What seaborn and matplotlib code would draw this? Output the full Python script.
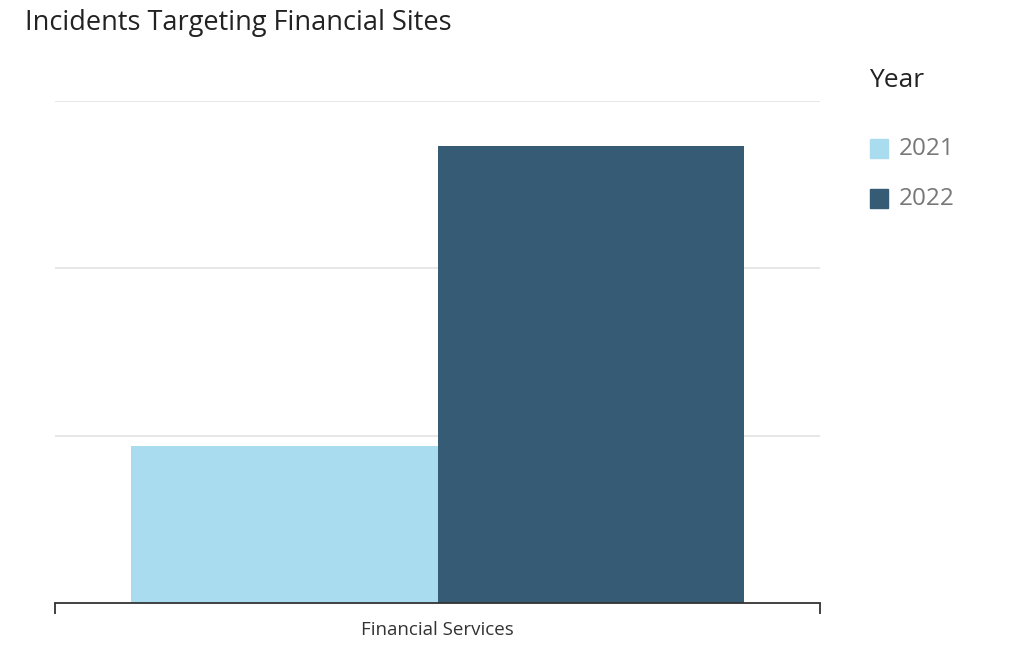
import pandas as pd
import matplotlib.pyplot as plt
import seaborn as sns

# Chart data
categories = ["Financial Services", "Financial Services"]
years = ["2021", "2022"]
incidents = [94, 273]
grid_ticks = [100, 200, 300]

palette = {"2021": "#AADCF0", "2022": "#365B74"}

df = pd.DataFrame({"sector": categories, "year": years, "incidents": incidents})

sns.set_style("white")
plt.rcParams['font.family'] = ['Open Sans', 'DejaVu Sans']

fig = plt.figure(figsize=(10.24, 6.5), dpi=100)
ax = fig.add_axes([0.0537, 0.0723, 0.7471, 0.7723])

sns.barplot(data=df, x="sector", y="incidents", hue="year", palette=palette,
            width=0.8, saturation=1, legend=False, linewidth=0, ax=ax, zorder=3)

ax.set_ylim(0, 300)
ax.set_xlim(-0.5, 0.5)
ax.set_yticks(grid_ticks)
ax.set_yticklabels([])
ax.tick_params(axis="y", length=0)
ax.grid(axis="y", color="#E3E3E3", linewidth=1.2, zorder=0)

# bottom axis with end ticks only
for side in ["top", "right", "left"]:
    ax.spines[side].set_visible(False)
ax.spines["bottom"].set_color("#333333")
ax.spines["bottom"].set_linewidth(1.3)
ax.spines["bottom"].set_zorder(4)
ax.set_xticks([-0.5, 0.5], minor=True)
ax.tick_params(axis="x", which="minor", bottom=True, length=8, width=1.3,
               color="#333333", direction="out")
ax.tick_params(axis="x", which="major", bottom=True, length=0, pad=13,
               labelsize=13.5, labelcolor="#333333")
ax.set_xlabel("")
ax.set_ylabel("")

fig.text(0.0245, 0.964, "Incidents Targeting Financial Sites", fontsize=19.5,
         color="#222222", ha="left", va="center")

# legend
fig.text(0.849, 0.876, "Year", fontsize=19, color="#222222", ha="left", va="center")
for i, yr in enumerate(years):
    ypos = 0.771 - i * 0.077
    fig.patches.append(plt.Rectangle((0.850, ypos - 0.0145), 0.0176, 0.029,
                                     transform=fig.transFigure, color=palette[yr], figure=fig))
    fig.text(0.878, ypos, yr, fontsize=17.5, color="#777777", ha="left", va="center")

plt.savefig("out.png", dpi=100)
